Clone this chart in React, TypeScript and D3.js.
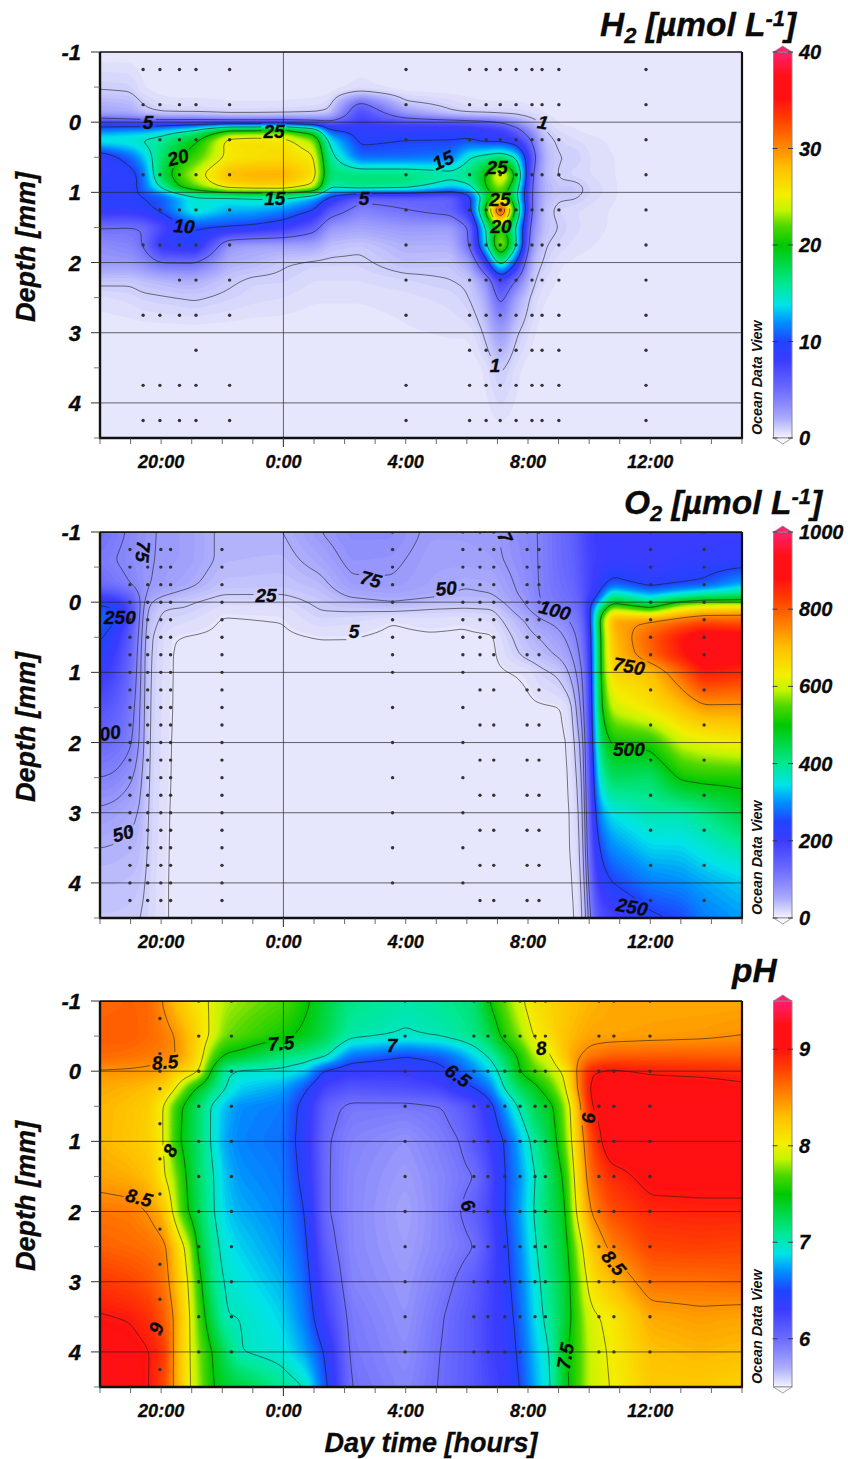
import React from "react";
import * as d3 from "d3";

// ---------- shared axis values ----------
const hourTicks = d3.range(18, 40);
const labelledHours = [20, 24, 28, 32, 36];
const hourText = ["20:00", "0:00", "4:00", "8:00", "12:00"];
const majorDepths = [-1, 0, 1, 2, 3, 4];
const minorDepths = [-0.5, 0.5, 1.5, 2.5, 3.5, 4.5];
const gridDepths = [0, 1, 2, 3, 4];

// ---------- H2 ----------
const h2Depths = [-1, -0.45, -0.25, -0.1, 0, 0.1, 0.25, 0.5, 0.75, 0.95, 1.05, 1.25, 1.5, 1.75, 2, 2.25, 2.5, 3, 3.5, 4.5];
const h2Times = [18, 19, 19.4, 20, 20.6, 21.1, 22.2, 23, 24, 25, 25.5, 26.5, 28, 29.5, 30.1, 30.6, 31.1, 31.6, 32.1, 32.5, 33, 33.5, 34, 35, 36, 39];
const h2Values = [
  [0, 1, 2, 2.5, 8, 11, 15, 8, 9, 9.5, 9.5, 9, 5, 3.5, 3, 1.3, 0.4, 0, 0, 0],
  [0, 0.9, 1.8, 2.3, 7, 12, 15, 11, 9, 9, 9.5, 9, 4.8, 4, 3, 1.2, 0.6, 0, 0, 0],
  [0, 0.3, 1, 1.5, 7, 12, 15.5, 13, 11, 11, 10, 9.5, 5, 5, 3.5, 1.5, 0.8, 0, 0, 0],
  [0, 0.1, 0.5, 1.1, 7, 13, 16, 17, 18, 15, 10.5, 10.5, 7, 9, 5, 1.7, 0.9, 0, 0, 0],
  [0, 0.1, 0.4, 1, 7, 14, 18, 20, 22, 20, 12.5, 13, 9, 9.5, 5, 2, 1, 0, 0, 0],
  [0, 0.1, 0.4, 1, 7, 15, 19.5, 21.5, 24, 22, 14, 15, 10, 10, 5, 2, 1.1, 0, 0, 0],
  [0, 0.1, 0.3, 0.8, 6, 20, 26, 25.5, 28.5, 26, 14.5, 13, 10, 3, 2, 1.2, 0.8, 0, 0, 0],
  [0, 0.1, 0.3, 0.8, 6, 20, 26.5, 26, 29, 26.5, 15, 13, 9.5, 2.5, 1.8, 0.8, 0.6, 0, 0, 0],
  [0, 0.1, 0.3, 0.9, 6, 21, 26, 26.5, 29, 26.5, 15.5, 12, 8.5, 2.5, 1.1, 0.8, 0.5, 0, 0, 0],
  [0, 0.1, 0.4, 1.1, 5.5, 17, 23, 25.5, 26.5, 24, 13, 10, 6, 2.5, 0.8, 0.5, 0.3, 0, 0, 0],
  [0, 0.1, 0.6, 1.5, 5.5, 10, 14, 16, 17, 15, 10, 6.5, 3, 1.5, 0.8, 0.5, 0.3, 0, 0, 0],
  [0, 0.4, 6, 7.5, 8, 9, 9.5, 11, 17, 16.5, 6, 4, 2.5, 1.2, 0.8, 0.5, 0.3, 0, 0, 0],
  [0, 0.1, 1.3, 3.5, 7, 9, 10, 11, 17, 16, 6, 5, 3, 2, 1.5, 0.7, 0.4, 0.2, 0, 0],
  [0, 0.1, 0.7, 1.2, 7, 9, 10, 11.5, 16, 13, 5.5, 6, 2.8, 2, 1.3, 1, 0.6, 0.3, 0, 0],
  [0, 0.1, 0.4, 0.9, 6.5, 9, 10, 15, 17, 14, 9, 9, 5, 5, 2.5, 1.2, 1, 0.3, 0, 0],
  [0, 0.1, 0.3, 0.9, 6, 8.5, 9, 16, 20, 20, 17, 20, 15, 14, 8, 3, 2, 1.1, 0.3, 0],
  [0, 0.1, 0.3, 0.8, 5, 8, 9, 17, 27, 23, 22, 38, 22, 25, 17, 8, 6, 3, 1.2, 0],
  [0, 0.1, 0.3, 0.8, 3, 6, 8, 15, 20, 17, 16, 19, 15, 16, 10, 5, 2.5, 1.1, 0.4, 0],
  [0, 0.1, 0.2, 0.6, 1.5, 3, 5, 7, 5.5, 5, 5, 5, 4, 3, 1.8, 1.3, 0.8, 0.4, 0, 0],
  [0, 0, 0.1, 0.3, 0.7, 1, 1.5, 2, 1.7, 2, 1.8, 1.5, 1.5, 1.1, 0.9, 0.5, 0.3, 0, 0, 0],
  [0, 0, 0, 0.1, 0.2, 0.4, 0.8, 1, 0.9, 1.3, 1.2, 0.7, 1, 0.7, 0.3, 0.2, 0.1, 0, 0, 0],
  [0, 0, 0, 0, 0.1, 0.3, 0.5, 1.05, 0.6, 1.5, 1.2, 0.5, 0.6, 0.4, 0.2, 0, 0, 0, 0, 0],
  [0, 0, 0, 0, 0, 0.1, 0.4, 0.5, 0.5, 0.8, 0.7, 0.4, 0.4, 0.3, 0.1, 0, 0, 0, 0, 0],
  [0, 0, 0, 0, 0, 0, 0.1, 0.2, 0.2, 0.2, 0.2, 0.15, 0.15, 0.05, 0, 0, 0, 0, 0, 0],
  [0, 0, 0, 0, 0, 0, 0, 0, 0, 0, 0, 0, 0, 0, 0, 0, 0, 0, 0, 0],
  [0, 0, 0, 0, 0, 0, 0, 0, 0, 0, 0, 0, 0, 0, 0, 0, 0, 0, 0, 0],
];
const h2Levels = [1, 5, 10, 15, 20, 25, 30, 35];
const h2Labels: [string, number, number, number][] = [
  ["5", 19.57, 0, 0], ["1", 32.49, 0, 10], ["25", 23.69, 0.13, 0], ["20", 20.55, 0.5, -15],
  ["15", 23.72, 1.08, 0], ["5", 26.64, 1.08, 0], ["10", 20.75, 1.48, 5], ["15", 29.22, 0.54, -25],
  ["25", 30.99, 0.64, 0], ["25", 31.08, 1.1, 0], ["20", 31.12, 1.48, 0], ["1", 30.92, 3.46, 0],
];
const h2Dots: [number, number[]][] = [
  [19.41, [-0.75, -0.25, 0.75, 1.75, 2.75, 3.75, 4.25]],
  [19.96, [-0.75, -0.25, 0.25, 0.75, 1.25, 1.75, 2.75, 3.75, 4.25]],
  [20.6, [-0.75, -0.25, 0.25, 0.75, 1.25, 1.75, 2.25, 2.75, 3.75, 4.25]],
  [21.14, [-0.75, -0.25, 0.25, 0.75, 1.25, 1.75, 2.25, 2.75, 3.25, 3.75, 4.25]],
  [22.24, [-0.75, -0.25, 0.25, 0.75, 1.25, 1.75, 2.25, 2.75, 3.75, 4.25]],
  [28.01, [-0.75, -0.25, 0.25, 0.75, 1.25, 1.75, 2.25, 2.75, 3.75, 4.25]],
  [30.09, [-0.75, -0.25, 0.25, 0.75, 1.25, 1.75, 2.25, 2.75, 3.25, 3.75, 4.25]],
  [30.63, [-0.75, -0.25, 0.25, 0.75, 1.25, 1.75, 2.25, 2.75, 3.25, 3.75, 4.25]],
  [31.09, [-0.75, -0.25, 0.25, 0.75, 1.25, 1.75, 2.25, 2.75, 3.25, 3.75, 4.25]],
  [31.61, [-0.75, -0.25, 0.25, 0.75, 1.25, 1.75, 2.25, 2.75, 3.25, 3.75, 4.25]],
  [32.13, [-0.75, -0.25, 0.25, 0.75, 1.25, 1.75, 2.25, 2.75, 3.25, 3.75, 4.25]],
  [32.46, [-0.75, -0.25, 0.25, 0.75, 1.25, 1.75, 2.25, 2.75, 3.25, 3.75, 4.25]],
  [33.01, [-0.75, -0.25, 0.25, 0.75, 1.25, 1.75, 2.25, 2.75, 3.25, 3.75, 4.25]],
  [35.86, [-0.75, -0.25, 0.25, 0.75, 1.25, 1.75, 2.25, 2.75, 3.25, 3.75, 4.25]],
];

// ---------- O2 ----------
const o2Depths = [-1, -0.6, -0.25, -0.1, 0, 0.1, 0.25, 0.5, 0.75, 1, 1.5, 2, 2.5, 3, 3.5, 4, 4.5];
const o2Times = [18, 18.5, 19, 19.3, 19.57, 20, 20.3, 20.8, 22, 24, 25.2, 26.2, 27.55, 28.8, 29.9, 30.85, 32, 32.35, 33.05, 33.4, 33.65, 33.85, 34.1, 34.35, 34.75, 36, 37, 37.75, 39];
const o2Values = [
  [125, 110, 130, 190, 240, 270, 275, 260, 235, 215, 170, 135, 100, 70, 50, 38, 30],
  [110, 100, 115, 170, 225, 250, 260, 220, 200, 185, 150, 125, 95, 65, 48, 38, 30],
  [95, 88, 100, 135, 170, 175, 170, 150, 140, 130, 115, 105, 80, 55, 45, 36, 28],
  [85, 82, 85, 95, 100, 100, 95, 90, 85, 85, 80, 75, 60, 50, 42, 33, 26],
  [80, 78, 76, 70, 55, 45, 38, 30, 27, 26, 25, 24, 24, 23, 22, 20, 18],
  [72, 72, 70, 55, 35, 26, 22, 15, 15, 14, 13, 12, 11, 10, 9, 8, 8],
  [70, 70, 66, 48, 32, 24, 18, 6, 5, 5, 5, 4.5, 4.5, 4, 4, 4, 4],
  [68, 68, 58, 40, 28, 24, 14, 4, 3, 3, 2.5, 2.5, 2, 2, 2, 2, 2],
  [45, 45, 35, 25, 15, 8, 4, 3, 2, 2, 1.5, 1.5, 1, 1, 1, 1, 1],
  [50, 42, 33, 25, 16, 8, 5.5, 3, 2, 2, 1.5, 1.5, 1, 1, 1, 1, 1],
  [75, 60, 42, 33, 30, 26, 18, 5, 3, 2, 1.5, 1.5, 1, 1, 1, 1, 1],
  [90, 82, 70, 55, 40, 28, 15, 5, 3, 2, 1.5, 1.5, 1, 1, 1, 1, 1],
  [90, 80, 72, 62, 50, 30, 5.5, 2.5, 2, 2, 1.5, 1.5, 1, 1, 1, 1, 1],
  [70, 65, 62, 56, 40, 24, 10, 3, 2, 2, 1.5, 1.5, 1, 1, 1, 1, 1],
  [70, 66, 52, 46, 35, 23, 7, 3, 2, 2, 1.5, 1.5, 1, 1, 1, 1, 1],
  [72, 68, 55, 50, 38, 24, 14, 3, 2, 2, 1.5, 1.5, 1, 1, 1, 1, 1],
  [95, 92, 88, 85, 80, 75, 55, 42, 32, 7, 2.5, 2, 2, 2, 2, 2, 2],
  [100, 100, 100, 100, 98, 90, 72, 50, 38, 18, 3, 2, 2, 2, 2, 2, 2],
  [130, 130, 125, 120, 115, 105, 85, 68, 55, 30, 4, 3, 2, 2, 2, 2, 2],
  [145, 140, 135, 130, 125, 115, 105, 85, 72, 55, 12, 6, 5, 4, 4, 3, 3],
  [160, 155, 150, 145, 140, 130, 115, 105, 95, 85, 70, 45, 30, 20, 15, 10, 6],
  [185, 180, 175, 170, 165, 160, 150, 130, 115, 100, 85, 70, 62, 55, 50, 40, 30],
  [200, 195, 200, 205, 250, 280, 270, 260, 255, 250, 240, 230, 215, 200, 180, 150, 120],
  [205, 205, 225, 260, 330, 430, 520, 500, 500, 500, 490, 440, 380, 310, 260, 220, 170],
  [205, 210, 270, 400, 480, 600, 730, 700, 690, 670, 600, 510, 440, 350, 300, 250, 190],
  [200, 205, 235, 320, 420, 510, 750, 800, 790, 700, 650, 520, 430, 385, 340, 290, 240],
  [205, 215, 250, 370, 510, 640, 780, 880, 870, 790, 700, 600, 510, 385, 340, 300, 255],
  [205, 220, 260, 400, 540, 680, 800, 930, 940, 870, 740, 620, 520, 410, 360, 315, 290],
  [210, 220, 320, 430, 530, 700, 790, 910, 910, 850, 740, 640, 520, 460, 390, 335, 310],
];
const o2Levels = [5, 25, 50, 75, 100, 250, 500, 750];
const o2Labels: [string, number, number, number][] = [
  ["75", 19.41, -0.72, 95], ["250", 18.65, 0.21, 0], ["00", 18.33, 1.86, -10], ["50", 18.75, 3.29, -15],
  ["25", 23.43, -0.1, 0], ["5", 26.31, 0.41, 0], ["75", 26.86, -0.33, 15], ["50", 29.32, -0.2, -5],
  ["100", 32.88, 0.11, 15], ["7", 31.25, -0.93, 65], ["750", 35.3, 0.91, 10], ["500", 35.3, 2.1, 0], ["250", 35.4, 4.34, 10],
];
const o2Full = [-0.75, -0.5, -0.25, 0, 0.25, 0.5, 0.75, 1, 1.25, 1.5, 1.75, 2, 2.25, 2.5, 2.75, 3, 3.25, 3.5, 3.75, 4, 4.25];
const o2Sparse = [-1, -0.75, -0.5, -0.25, 0, 0.25, 0.5, 0.75, 1, 1.5, 2, 2.5, 3, 3.5, 4];
const o2Late = [-1, -0.75, -0.5, -0.25, 0, 0.25, 0.5, 0.75, 1.25, 1.75, 2.25, 2.75, 3.25, 3.75, 4.25];
const o2Dots: [number, number[]][] = [
  [18.98, o2Full], [19.56, o2Full], [19.99, o2Full], [20.31, o2Full], [21.99, o2Full],
  [27.57, o2Sparse], [29.87, o2Sparse],
  [30.43, o2Late], [30.88, o2Late], [31.97, o2Late], [32.36, o2Late], [36.01, o2Late], [37.76, o2Late],
];

// ---------- pH ----------
const phDepths = [-1, -0.5, -0.2, 0, 0.25, 0.5, 1, 1.5, 2, 2.5, 3, 3.5, 4, 4.5];
const phTimes = [18, 18.98, 19.64, 20.13, 20.45, 20.94, 21.27, 21.66, 22.09, 22.58, 24, 24.71, 25.36, 26.18, 28, 29.12, 29.78, 30.27, 30.76, 31.25, 31.74, 32.23, 32.72, 33.21, 33.54, 34.03, 34.68, 36, 37.63, 39];
const phValues = [
  [8.65, 8.7, 8.65, 8.48, 8.4, 8.35, 8.35, 8.42, 8.6, 8.68, 8.85, 9.02, 9.15, 9.15],
  [8.68, 8.7, 8.62, 8.47, 8.35, 8.3, 8.28, 8.38, 8.58, 8.65, 8.8, 8.98, 9.1, 9.12],
  [8.65, 8.65, 8.58, 8.45, 8.3, 8.22, 8.2, 8.3, 8.48, 8.62, 8.72, 8.88, 9.0, 9.0],
  [8.46, 8.58, 8.55, 8.4, 8.2, 7.97, 7.98, 8.0, 8.3, 8.55, 8.6, 8.68, 8.85, 8.75],
  [8.3, 8.5, 8.52, 8.25, 8.02, 7.65, 7.6, 7.8, 7.88, 8.25, 8.35, 8.47, 8.42, 8.45],
  [8.15, 8.3, 8.3, 8.15, 7.6, 7.35, 7.35, 7.4, 7.45, 7.85, 7.95, 8.0, 8.0, 8.0],
  [8.05, 8.15, 8.1, 8.0, 7.4, 7.2, 7.2, 7.2, 7.25, 7.35, 7.55, 7.65, 7.75, 7.8],
  [7.98, 7.95, 7.7, 7.45, 7.2, 6.97, 6.97, 7.03, 7.03, 7.1, 7.15, 7.3, 7.5, 7.52],
  [7.85, 7.75, 7.45, 7.05, 7.0, 6.8, 6.75, 6.82, 6.85, 6.92, 6.98, 7.0, 7.25, 7.4],
  [7.8, 7.7, 7.4, 6.95, 6.85, 6.7, 6.68, 6.72, 6.78, 6.85, 6.92, 7.0, 7.0, 7.35],
  [7.7, 7.55, 7.15, 6.95, 6.75, 6.65, 6.62, 6.65, 6.68, 6.72, 6.78, 6.85, 6.92, 7.1],
  [7.55, 7.45, 7.1, 6.85, 6.53, 6.42, 6.4, 6.43, 6.5, 6.55, 6.6, 6.65, 6.75, 7.0],
  [7.35, 7.3, 7.02, 6.45, 6.25, 6.08, 6.03, 6.03, 6.03, 6.1, 6.2, 6.3, 6.48, 6.55],
  [7.15, 7.05, 6.62, 6.35, 6.15, 5.96, 5.9, 5.88, 5.88, 5.88, 5.9, 5.95, 5.97, 6.0],
  [7.05, 6.98, 6.48, 6.33, 6.2, 5.95, 5.82, 5.78, 5.75, 5.77, 5.8, 5.82, 5.85, 5.88],
  [7.1, 7.02, 6.55, 6.45, 6.25, 5.99, 5.92, 5.88, 5.88, 5.88, 5.93, 5.98, 6.0, 6.01],
  [7.15, 7.08, 6.7, 6.55, 6.42, 6.1, 6.0, 5.95, 6.0, 5.95, 6.03, 6.08, 6.08, 6.09],
  [7.2, 7.15, 6.85, 6.7, 6.5, 6.2, 6.15, 6.0, 6.1, 6.0, 6.12, 6.15, 6.15, 6.15],
  [7.52, 7.3, 7.02, 6.85, 6.65, 6.42, 6.3, 6.22, 6.25, 6.2, 6.25, 6.28, 6.28, 6.25],
  [7.75, 7.6, 7.25, 7.15, 7.03, 6.75, 6.52, 6.5, 6.5, 6.45, 6.42, 6.38, 6.35, 6.33],
  [7.95, 7.8, 7.55, 7.52, 7.25, 7.05, 6.8, 6.72, 6.75, 6.7, 6.65, 6.6, 6.55, 6.5],
  [8.15, 8.03, 7.85, 7.7, 7.42, 7.3, 7.1, 7.0, 7.03, 6.98, 6.92, 6.88, 6.82, 6.78],
  [8.2, 8.15, 7.96, 7.85, 7.65, 7.42, 7.33, 7.25, 7.25, 7.2, 7.15, 7.1, 7.0, 6.97],
  [8.25, 8.3, 8.3, 8.05, 7.95, 7.8, 7.72, 7.55, 7.45, 7.4, 7.35, 7.35, 7.47, 7.45],
  [8.3, 8.35, 8.45, 8.45, 8.4, 8.2, 8.15, 8.05, 7.97, 7.75, 7.65, 7.6, 7.6, 7.6],
  [8.35, 8.42, 8.6, 8.98, 9.05, 9.0, 8.75, 8.65, 8.5, 8.25, 8.1, 7.95, 7.9, 7.9],
  [8.4, 8.42, 8.7, 9.05, 9.15, 9.15, 9.18, 8.9, 8.75, 8.55, 8.3, 8.05, 8.02, 8.0],
  [8.4, 8.44, 8.72, 8.98, 9.1, 9.15, 9.15, 9.08, 8.93, 8.8, 8.62, 8.4, 8.3, 8.25],
  [8.4, 8.46, 8.72, 8.95, 9.1, 9.15, 9.15, 9.08, 8.95, 8.82, 8.62, 8.45, 8.35, 8.25],
  [8.4, 8.5, 8.7, 8.92, 9.05, 9.12, 9.12, 9.08, 8.95, 8.8, 8.65, 8.42, 8.32, 8.2],
];
const phLevels = [6, 6.5, 7, 7.5, 8, 8.5, 9];
const phLabels: [string, number, number, number][] = [
  ["8.5", 20.13, -0.13, -5], ["7.5", 23.92, -0.4, -5], ["7", 27.55, -0.37, 0], ["6.5", 29.71, 0.06, 35],
  ["8", 32.43, -0.33, -5], ["9", 34, 0.66, 90], ["8", 20.29, 1.13, -60], ["8.5", 19.28, 1.8, 15],
  ["6", 30.04, 1.91, 60], ["8.5", 34.81, 2.73, 50], ["9", 19.83, 3.66, -75], ["7.5", 33.21, 4.06, -80],
];
const phRegular = [-1, -0.5, 0, 0.5, 1, 1.5, 2, 2.5, 3, 3.5, 4];
const phNoBottom = [-1, -0.5, 0, 0.5, 1, 1.5, 2, 2.5, 3, 3.5];
const phDots: [number, number[]][] = [
  [19.96, [-0.75, -0.25, 0, 0.25, 0.75, 1.25, 1.75, 2.25, 2.75, 3.25, 3.75, 4.25]],
  [21.23, phRegular], [22.3, phRegular], [27.98, phRegular], [30.23, phRegular], [30.69, phRegular],
  [31.24, phRegular], [31.74, phRegular], [32.23, phNoBottom], [32.57, phNoBottom],
  [34.32, phRegular], [34.81, phRegular], [35.99, phRegular],
];

// ---------- palette (fraction of the colour bar -> colour) ----------
const paletteStops = [0, 0.05, 0.09, 0.125, 0.2, 0.25, 0.3, 0.345, 0.4, 0.5, 0.55, 0.59, 0.63, 0.7, 0.75, 0.82, 0.88, 0.94, 1];
const paletteColors = ["#e6e6fc", "#acacfc", "#8888fc", "#6c6cfe", "#3c3cff", "#2044ff", "#0090ff", "#00e4e8", "#00e890", "#00c800", "#50d800", "#c4f400", "#f4ee00", "#ffc000", "#ff8c00", "#ff4400", "#ff1010", "#ff1018", "#ff2070"];
const palette = d3.scaleLinear<string>().domain(paletteStops).range(paletteColors).interpolate(d3.interpolateRgb).clamp(true);

const X0 = 100, X1 = 742, PH = 386;
const FONT = "'Liberation Sans', Arial, sans-serif";
const INK = "#0a0a0a";
const CELL = 2;

function sampleField(times: number[], depths: number[], vals: number[][], t: number, d: number) {
  const i = Math.max(0, Math.min(times.length - 2, d3.bisectRight(times, t) - 1));
  const j = Math.max(0, Math.min(depths.length - 2, d3.bisectRight(depths, d) - 1));
  const u = Math.max(0, Math.min(1, (t - times[i]) / (times[i + 1] - times[i])));
  const v = Math.max(0, Math.min(1, (d - depths[j]) / (depths[j + 1] - depths[j])));
  return (vals[i][j] * (1 - v) + vals[i][j + 1] * v) * (1 - u) + (vals[i + 1][j] * (1 - v) + vals[i + 1][j + 1] * v) * u;
}

type PanelProps = {
  id: string; top: number; times: number[]; depths: number[]; values: number[][];
  domain: [number, number]; levels: number[]; labels: [string, number, number, number][];
  dots: [number, number[]][]; barTicks: number[]; barText: string[];
  title: React.ReactNode;
};

function Panel(p: PanelProps) {
  const x = d3.scaleLinear().domain([18, 39]).range([X0, X1]);
  const y = d3.scaleLinear().domain([-1, 4.5]).range([p.top, p.top + PH]);
  const w = Math.round((X1 - X0) / CELL), h = Math.round(PH / CELL);
  const model = React.useMemo(() => {
    const data = new Float64Array(w * h);
    for (let r = 0; r < h; r++) for (let c = 0; c < w; c++) {
      data[r * w + c] = sampleField(p.times, p.depths, p.values, x.invert(X0 + (c + 0.5) * CELL), y.invert(p.top + (r + 0.5) * CELL));
    }
    const blurred = d3.blur2({ data: data as any, width: w, height: h }, 1.2).data as any;
    const path = d3.geoPath();
    const contour = d3.contours().size([w, h]).smooth(true);
    const bandLevels = d3.range(1, 160).map((k) => p.domain[0] + ((p.domain[1] - p.domain[0]) * k) / 160);
    const bands = contour.thresholds(bandLevels)(blurred).map((g) => ({ v: g.value, d: path(g) || "" })).filter((b) => b.d);
    const lines = contour.thresholds(p.levels)(blurred).map((g) => ({ v: g.value, d: path(g) || "" })).filter((b) => b.d);
    return { bands, lines };
  }, []);
  const t01 = (v: number) => (v - p.domain[0]) / (p.domain[1] - p.domain[0]);
  const bar = d3.scaleLinear().domain(p.domain).range([p.top + PH, p.top]);
  const gid = `grad-${p.id}`;
  const stopsForBar = paletteStops.map((s, i) => (
    <stop key={i} offset={`${s * 100}%`} stopColor={s === 0 ? "#f4f4ff" : paletteColors[i]} />
  ));
  const BX0 = 773.5, BX1 = 792;
  const bold = { fontFamily: FONT, fontWeight: "bold", fontStyle: "italic", fill: INK, stroke: INK, strokeWidth: 0.3 } as const;
  return (
    <g>
      <defs>
        <clipPath id={`clip-${p.id}`}><rect x={X0} y={p.top} width={X1 - X0} height={PH} /></clipPath>
        <mask id={`mask-${p.id}`} maskUnits="userSpaceOnUse" x={0} y={0} width={848} height={1459}>
          <rect x={0} y={0} width={848} height={1459} fill="#fff" />
          {p.labels.map(([s, t, d, rot], i) => {
            const bw = s.length * 9.5 + (s.includes(".") ? 2 : 6);
            return <rect key={i} x={-bw / 2} y={-9} width={bw} height={18} fill="#000" transform={`translate(${x(t)},${y(d)}) rotate(${rot})`} />;
          })}
        </mask>
        <linearGradient id={gid} x1="0" y1="1" x2="0" y2="0">{stopsForBar}</linearGradient>
      </defs>
      <g clipPath={`url(#clip-${p.id})`}>
        <rect x={X0} y={p.top} width={X1 - X0} height={PH} fill={palette(0)} />
        <g transform={`translate(${X0},${p.top}) scale(${CELL})`}>
          {model.bands.map((b, i) => <path key={i} d={b.d} fill={palette(t01(b.v))} />)}
        </g>
        <g mask={`url(#mask-${p.id})`}>
          <g transform={`translate(${X0},${p.top}) scale(${CELL})`}>
            {model.lines.map((b, i) => (
              <path key={i} d={b.d} fill="none" stroke="#1c1c1c" strokeOpacity={0.72} strokeWidth={0.8} vectorEffect="non-scaling-stroke" />
            ))}
          </g>
        </g>
        {gridDepths.map((d) => <line key={d} x1={X0} x2={X1} y1={y(d)} y2={y(d)} stroke="#222" strokeOpacity={0.75} strokeWidth={0.9} />)}
        <line x1={x(24)} x2={x(24)} y1={p.top} y2={p.top + PH} stroke="#222" strokeOpacity={0.75} strokeWidth={0.9} />
        {p.dots.flatMap(([t, ds]) => ds.map((d) => <circle key={`${t}-${d}`} cx={x(t)} cy={y(d)} r={1.7} fill="#333" />))}
        {p.labels.map(([s, t, d, rot], i) => (
          <text key={i} transform={`translate(${x(t)},${y(d)}) rotate(${rot})`} textAnchor="middle" dy="0.36em" fontSize={19} {...bold}>{s}</text>
        ))}
      </g>
      {/* frame */}
      <line x1={X0} x2={X1} y1={p.top} y2={p.top} stroke="#111" strokeWidth={1.6} />
      <line x1={X0} x2={X0} y1={p.top} y2={p.top + PH + 1} stroke="#111" strokeWidth={2.4} />
      <line x1={X1} x2={X1} y1={p.top} y2={p.top + PH + 1} stroke="#111" strokeWidth={2.2} />
      <line x1={X0 - 1} x2={X1 + 1} y1={p.top + PH} y2={p.top + PH} stroke="#111" strokeWidth={2.6} />
      {/* depth axis */}
      {majorDepths.map((d) => (
        <g key={d}>
          <line x1={X0 - 9} x2={X0} y1={y(d)} y2={y(d)} stroke="#333" strokeWidth={1} />
          <text x={81} y={y(d) + 8} textAnchor="end" fontSize={22} {...bold}>{d}</text>
        </g>
      ))}
      {minorDepths.map((d) => <line key={d} x1={X0 - 6} x2={X0} y1={y(d)} y2={y(d)} stroke="#555" strokeWidth={0.8} />)}
      <text transform={`translate(35,${y(1.78)}) rotate(-90)`} textAnchor="middle" fontSize={27} {...bold}>Depth [mm]</text>
      {/* time axis */}
      {hourTicks.map((t) => (
        <line key={t} x1={x(t)} x2={x(t)} y1={p.top + PH} y2={p.top + PH + (t === 24 ? 9 : 6)} stroke="#444" strokeWidth={t === 24 ? 1.2 : 0.8} />
      ))}
      {labelledHours.map((t, i) => (
        <text key={t} x={x(t)} y={p.top + PH + 30} textAnchor="middle" fontSize={18} {...bold}>{hourText[i]}</text>
      ))}
      {p.title}
      <text transform={`translate(762,${p.top + PH - 3}) rotate(-90)`} fontSize={14.3} fontFamily={FONT} fontWeight="bold" fontStyle="italic" fill="#111">Ocean Data View</text>
      {/* colour bar */}
      <rect x={BX0} y={p.top} width={BX1 - BX0} height={PH} fill={`url(#${gid})`} stroke="#8a8a8a" strokeWidth={1} />
      <polygon points={`${BX0},${p.top} ${(BX0 + BX1) / 2},${p.top - 6} ${BX1},${p.top}`} fill="#ff2070" stroke="#8a8a8a" strokeWidth={0.8} />
      <polygon points={`${BX0},${p.top + PH} ${(BX0 + BX1) / 2},${p.top + PH + 6} ${BX1},${p.top + PH}`} fill="#f6f6ff" stroke="#8a8a8a" strokeWidth={0.8} />
      {p.barTicks.map((v, i) => (
        <g key={v}>
          <line x1={BX0 - 1} x2={BX0 + 4} y1={bar(v)} y2={bar(v)} stroke="#333" strokeWidth={0.9} />
          <line x1={BX1 - 4} x2={BX1 + 1} y1={bar(v)} y2={bar(v)} stroke="#333" strokeWidth={0.9} />
          <text x={799} y={bar(v) + 7} fontSize={20} {...bold}>{p.barText[i]}</text>
        </g>
      ))}
    </g>
  );
}

function Title({ x, y, main, sub, rest, sup, end }: { x: number; y: number; main: string; sub?: string; rest?: string; sup?: string; end?: string }) {
  return (
    <text x={x} y={y} fontFamily={FONT} fontWeight="bold" fontStyle="italic" fontSize={33.5} fill={INK} stroke={INK} strokeWidth={0.3}>
      {main}
      {sub && <tspan fontSize={22} dy={7}>{sub}</tspan>}
      {rest && <tspan dy={-7}>{rest}</tspan>}
      {sup && <tspan fontSize={22} dy={-10}>{sup}</tspan>}
      {end && <tspan dy={10}>{end}</tspan>}
    </text>
  );
}

export default function App() {
  return (
    <svg width={848} height={1459} style={{ position: "absolute", left: 0, top: 0, display: "block", background: "#fff" }}>
      <Panel id="h2" top={52} times={h2Times} depths={h2Depths} values={h2Values} domain={[0, 40]} levels={h2Levels} labels={h2Labels} dots={h2Dots}
        barTicks={[0, 10, 20, 30, 40]} barText={["0", "10", "20", "30", "40"]}
        title={<Title x={600} y={36} main="H" sub="2" rest=" [µmol L" sup="-1" end="]" />} />
      <Panel id="o2" top={532} times={o2Times} depths={o2Depths} values={o2Values} domain={[0, 1000]} levels={o2Levels} labels={o2Labels} dots={o2Dots}
        barTicks={[0, 200, 400, 600, 800, 1000]} barText={["0", "200", "400", "600", "800", "1000"]}
        title={<Title x={624} y={514} main="O" sub="2" rest=" [µmol L" sup="-1" end="]" />} />
      <Panel id="ph" top={1001} times={phTimes} depths={phDepths} values={phValues} domain={[5.5, 9.5]} levels={phLevels} labels={phLabels} dots={phDots}
        barTicks={[6, 7, 8, 9]} barText={["6", "7", "8", "9"]}
        title={<Title x={732} y={982} main="pH" />} />
      <text x={431} y={1452} textAnchor="middle" fontFamily={FONT} fontWeight="bold" fontStyle="italic" fontSize={27} fill={INK} stroke={INK} strokeWidth={0.3}>Day time [hours]</text>
    </svg>
  );
}
